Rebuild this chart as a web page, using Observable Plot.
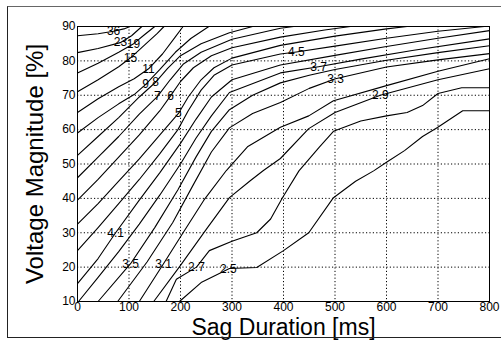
<!DOCTYPE html>
<html><head><meta charset="utf-8">
<style>
html,body{margin:0;padding:0;background:#fff;width:501px;height:340px;overflow:hidden}
#chart{position:absolute;left:0;top:0}
#outer{position:absolute;left:7px;top:6px;width:500px;height:330px;border-left:1px solid #222;border-top:1px solid #666;border-bottom:1px solid #222;pointer-events:none}
</style>
<script src="https://cdn.jsdelivr.net/npm/d3@7"></script>
<script src="https://cdn.jsdelivr.net/npm/@observablehq/plot@0.6"></script>
</head><body><div id="chart"></div><div id="outer"></div>
<script>
// tick values
const xTicks = [0,100,200,300,400,500,600,700,800];
const yTicks = [10,20,30,40,50,60,70,80,90];

// contour levels (number of events)
const levels = ["36","23","19","15","11","9","8","7","6","5","4.5","4.1","3.7","3.5","3.3","3.1","2.9","2.7","2.5"];

// contour lines: [duration ms, voltage %]
const c36 = [[0,87.3],[40,87.9],[70,88.6],[90,89.3],[102,90]];
const c23 = [[0,82.4],[40,83.6],[83,85.3],[105,87.3],[125,90]];
const c19 = [[0,76.5],[40,79.3],[80,82.5],[109,85],[130,87.6],[150,90]];
const c15 = [[0,71],[40,74.5],[80,78.3],[103,80.9],[130,84.6],[155,88],[168,90]];
const c11 = [[0,65],[40,69],[80,72.5],[110,74.8],[138,77.7],[165,82],[190,87],[205,90]];
const c9  = [[0,59],[40,63.5],[80,67.5],[110,70.2],[132,73.1],[160,77.5],[190,82.5],[220,86.5],[255,90]];
const c8  = [[0,52.5],[40,58],[80,63.5],[120,69.5],[151,73.7],[175,77.8],[200,81.5],[240,85],[295,88.2],[340,90]];
const c7  = [[0,46],[40,52],[80,58],[120,64.5],[155,69.6],[180,74.5],[205,79],[240,82.5],[300,86.3],[394,89.5],[420,90]];
const c6  = [[0,39.5],[40,45.5],[80,52],[120,58.5],[160,65.5],[181,69.9],[200,74],[225,78],[260,81.5],[300,83.8],[394,86.9],[480,89],[530,90]];
const c5  = [[0,32.5],[40,38.5],[80,45],[120,51.5],[160,58.5],[196,64.7],[215,69.5],[240,74.5],[265,78],[300,80.8],[394,84.5],[500,87.2],[600,89.3],[640,90]];
const c45 = [[0,24.8],[40,31.5],[80,38.5],[120,45.5],[160,53],[195,60],[215,65.5],[240,71.5],[265,75.8],[300,78.8],[394,82],[425,82.6],[500,84.3],[600,86.6],[700,88.6],[790,90]];
const c41 = [[0,15.2],[40,22.5],[74,30],[120,39.5],[160,47.5],[200,56],[230,63],[260,69.5],[300,74.5],[394,78.8],[500,81.6],[600,84.2],[700,86.6],[800,88.8]];
const c37 = [[2,10],[40,17],[80,24.5],[120,32.5],[160,41],[200,50],[230,57.5],[260,64],[295,70.8],[394,76.5],[468,78.3],[550,80.5],[650,83],[800,86.4]];
const c35 = [[40,10],[103,21],[150,31.5],[195,42.5],[230,52],[260,59.5],[295,65.8],[340,70],[394,73.6],[450,75.8],[500,77.5],[600,80.2],[700,82.4],[800,84.4]];
const c33 = [[78,10],[135,21.5],[185,33],[225,44],[260,53.5],[295,60.5],[340,64.7],[394,67.9],[450,72],[501,74.8],[600,78.2],[700,80.3],[800,82.1]];
const c31 = [[120,10],[167,21],[205,30],[245,39.4],[289,48.1],[330,55],[394,60.7],[449,64],[497,68.4],[600,72.8],[700,77],[800,80.6]];
const c29 = [[148,10],[200,20.5],[250,31],[295,40.2],[336,45.2],[361,48.1],[394,51.6],[449,60.3],[500,65],[588,70],[700,74.5],[800,77.7]];
const c27 = [[172,10],[192,16.5],[231,20],[256,24.8],[300,27.5],[348,30],[375,34],[398,40.2],[430,48],[470,55],[497,59.5],[550,62.5],[600,64],[640,65],[670,67],[700,70.5],[746,72.2],[800,72.2]];
const c25 = [[198,10],[240,15.5],[295,19.6],[348,19.9],[400,24.8],[449,30],[497,40.2],[540,45],[575,48],[600,50.5],[635,53.9],[670,58],[699,60.6],[748,65.5],[800,65.5]];

// duration at which each contour carries its label
const labelDur = [70,83.5,108.7,103,138,132,151.5,155,180.6,196,425,74,468,103,501,167,588,231,293];

const contours = [c36,c23,c19,c15,c11,c9,c8,c7,c6,c5,c45,c41,c37,c35,c33,c31,c29,c27,c25];

const rows = contours.flatMap((c, i) => c.map(([d, v]) => ({level: levels[i], d, v})));

function valueAt(c, d) {
  for (let k = 1; k < c.length; k++) {
    if (d <= c[k][0]) {
      const [d0, v0] = c[k-1], [d1, v1] = c[k];
      return v0 + (v1 - v0) * (d - d0) / (d1 - d0);
    }
  }
  return c[c.length-1][1];
}
const labels = levels.map((lv, i) => ({text: lv, d: labelDur[i], v: valueAt(contours[i], labelDur[i])}));

const chart = Plot.plot({
  width: 501,
  height: 340,
  marginLeft: 77,
  marginRight: 12,
  marginTop: 26,
  marginBottom: 39,
  style: {fontFamily: "Arial, 'Liberation Sans', sans-serif", fontSize: "12px", color: "black", background: "transparent", overflow: "visible"},
  x: {domain: [0, 800]},
  y: {domain: [10, 90]},
  marks: [
    Plot.gridX({ticks: xTicks, stroke: "black", strokeOpacity: 1, strokeWidth: 1, strokeDasharray: "1.2,2.2"}),
    Plot.gridY({ticks: yTicks, stroke: "black", strokeOpacity: 1, strokeWidth: 1, strokeDasharray: "1.2,2.2"}),
    Plot.line(rows, {x: "d", y: "v", z: "level", stroke: "black", strokeWidth: 1.1}),
    Plot.text(labels, {x: "d", y: "v", text: "text", fontSize: 12, fill: "black"}),
    Plot.frame({stroke: "black", strokeWidth: 1}),
    Plot.axisX({ticks: xTicks, tickSize: 0, tickPadding: 1, label: null, fontSize: 12}),
    Plot.axisY({ticks: yTicks, tickSize: 0, tickPadding: 2, label: null, fontSize: 12}),
    Plot.text(["Sag Duration [ms]"], {frameAnchor: "bottom", textAnchor: "middle", lineAnchor: "middle", dy: 26, fontSize: 23}),
    Plot.text(["Voltage Magnitude [%]"], {frameAnchor: "left", textAnchor: "middle", lineAnchor: "middle", rotate: -90, dx: -42, fontSize: 24})
  ]
});
document.getElementById("chart").append(chart);
</script>
</body></html>
